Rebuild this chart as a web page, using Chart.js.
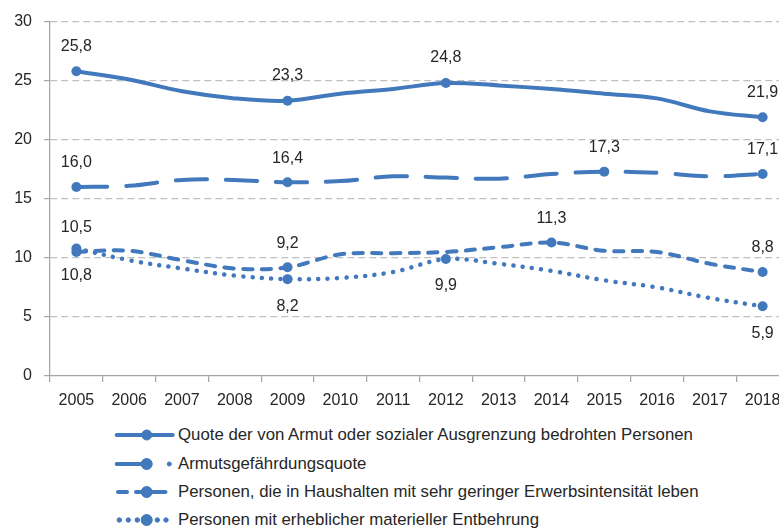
<!DOCTYPE html>
<html>
<head>
<meta charset="utf-8">
<script src="https://cdn.jsdelivr.net/npm/chart.js@4.4.1/dist/chart.umd.min.js"></script>
<style>
  html, body { margin: 0; padding: 0; background: #fff; overflow: hidden; width: 779px; height: 528px; }
  #wrap { position: absolute; left: 0; top: 0; width: 800px; height: 415px; }
  .item { position: absolute; left: 114px; height: 20px; white-space: nowrap;
          font-family: "Liberation Sans", Arial, sans-serif; font-size: 16.8px; color: #262626; }
  .item svg { position: absolute; left: 0; top: 0; }
  .item span { position: absolute; left: 64px; top: 0; line-height: 20px; }
</style>
</head>
<body>
<div id="wrap"><canvas id="c"></canvas></div>
<div id="legend"></div>
<script>
// ---- data ----
const years = ['2005','2006','2007','2008','2009','2010','2011','2012','2013','2014','2015','2016','2017','2018'];
const seriesNames = [
  'Quote der von Armut oder sozialer Ausgrenzung bedrohten Personen',
  'Armutsgefährdungsquote',
  'Personen, die in Haushalten mit sehr geringer Erwerbsintensität leben',
  'Personen mit erheblicher materieller Entbehrung'
];
const aropeRate      = [25.8, 25.1, 24.1, 23.5, 23.3, 23.9, 24.3, 24.8, 24.6, 24.3, 23.9, 23.5, 22.4, 21.9];
const povertyRisk    = [16.0, 16.1, 16.6, 16.6, 16.4, 16.5, 16.9, 16.8, 16.7, 17.1, 17.3, 17.2, 16.9, 17.1];
const lowWorkInt     = [10.5, 10.6,  9.8,  9.1,  9.2, 10.3, 10.4, 10.5, 10.9, 11.3, 10.6, 10.5,  9.5,  8.8];
const materialDepr   = [10.8,  9.8,  9.1,  8.5,  8.2,  8.3,  8.8,  9.9,  9.5,  8.9,  8.1,  7.5,  6.6,  5.9];
const markedAROPE    = [0, 4, 7, 13];
const markedPoverty  = [0, 4, 10, 13];
const markedLowWork  = [0, 4, 9, 13];
const markedMaterial = [0, 4, 7, 13];
const yTicks = [0, 5, 10, 15, 20, 25, 30];

// ---- styling ----
const BLUE = '#4279BD';
const TEXT = '#262626';
const FONT = '"Liberation Sans", Arial, sans-serif';

function radii(marks) { return years.map((_, i) => marks.includes(i) ? 5 : 0); }

function ds(name, data, marks, dash, labelOffset, width) {
  return {
    label: name, data: data, marks: marks, labelOffset: labelOffset,
    borderColor: BLUE, backgroundColor: BLUE, borderWidth: width,
    borderDash: dash, borderCapStyle: 'round', borderJoinStyle: 'round',
    pointRadius: radii(marks), pointHoverRadius: radii(marks),
    pointBackgroundColor: BLUE, pointBorderWidth: 0,
    tension: 0.35, fill: false
  };
}

const valueLabels = {
  id: 'valueLabels',
  afterDatasetsDraw(chart) {
    const ctx = chart.ctx;
    ctx.save();
    ctx.font = '16px ' + FONT;
    ctx.fillStyle = TEXT;
    ctx.textAlign = 'center';
    ctx.textBaseline = 'middle';
    chart.data.datasets.forEach((d, di) => {
      const meta = chart.getDatasetMeta(di);
      d.marks.forEach(i => {
        const p = meta.data[i];
        ctx.fillText(d.data[i].toFixed(1).replace('.', ','), p.x, p.y + d.labelOffset);
      });
    });
    ctx.restore();
  }
};

new Chart(document.getElementById('c'), {
  type: 'line',
  data: {
    labels: years,
    datasets: [
      ds(seriesNames[0], aropeRate, markedAROPE, [], -25, 4),
      ds(seriesNames[1], povertyRisk, markedPoverty, [31, 19], -24, 4),
      ds(seriesNames[2], lowWorkInt, markedLowWork, [9.3, 9.4], -24, 4),
      ds(seriesNames[3], materialDepr, markedMaterial, [0.1, 9.3], 27, 4.5)
    ]
  },
  options: {
    responsive: true, maintainAspectRatio: false, animation: false, devicePixelRatio: 1,
    layout: { padding: { top: 17, right: 11, left: 0, bottom: 0 } },
    plugins: { legend: { display: false }, tooltip: { enabled: false } },
    scales: {
      x: {
        offset: true,
        grid: { display: true, offset: true, drawOnChartArea: false, drawTicks: true, tickLength: 6, color: '#a6a6a6', lineWidth: 1.25 },
        border: { display: true, color: '#a6a6a6', width: 1.25 },
        ticks: { color: TEXT, font: { family: FONT, size: 16 }, padding: 9, maxRotation: 0, autoSkip: false },
        afterFit(s) { s.height = 39; }
      },
      y: {
        min: 0, max: 30,
        afterBuildTicks(s) { s.ticks = yTicks.map(v => ({ value: v })); },
        ticks: { color: TEXT, font: { family: FONT, size: 16 }, padding: 12 },
        grid: {
          color: c => (c.tick && c.tick.value === 0) ? 'rgba(0,0,0,0)' : '#c0c0c0',
          lineWidth: 1.2, drawTicks: true, tickLength: 6, tickColor: '#a6a6a6', tickBorderDash: [], tickWidth: 1.25
        },
        border: { display: true, color: '#a6a6a6', width: 1.25, dash: [7, 4] },
        afterFit(s) { s.width = 50; }
      }
    }
  },
  plugins: [valueLabels]
});

// ---- HTML legend ----
const rowCenters = [435, 464, 492, 520];
const samples = [
  '<line x1="2.7" y1="10" x2="58.7" y2="10" stroke-width="4" stroke-linecap="round"/><circle cx="32.7" cy="10" r="5"/>',
  '<line x1="2.7" y1="10" x2="27.7" y2="10" stroke-width="4" stroke-linecap="round"/><circle cx="32.7" cy="10" r="5.5"/><circle cx="55.3" cy="10" r="2"/>',
  '<line x1="4" y1="10" x2="13" y2="10" stroke-width="4" stroke-linecap="round"/><line x1="22" y1="10" x2="27.7" y2="10" stroke-width="4" stroke-linecap="round"/><circle cx="32.7" cy="10" r="5.5"/><line x1="39" y1="10" x2="51.5" y2="10" stroke-width="4" stroke-linecap="round"/>',
  '<circle cx="5.3" cy="10" r="2.2"/><circle cx="14.3" cy="10" r="2.2"/><circle cx="23.3" cy="10" r="2.2"/><circle cx="32.7" cy="10" r="5.5"/><circle cx="43.3" cy="10" r="2.2"/><circle cx="52" cy="10" r="2.2"/>'
];
const leg = document.getElementById('legend');
seriesNames.forEach((name, i) => {
  const d = document.createElement('div');
  d.className = 'item';
  d.style.top = (rowCenters[i] - 10) + 'px';
  d.innerHTML = '<svg width="62" height="20" fill="' + BLUE + '" stroke="' + BLUE + '">' + samples[i] + '</svg>';
  const s = document.createElement('span');
  s.textContent = name;
  d.appendChild(s);
  leg.appendChild(d);
});
</script>
</body>
</html>
